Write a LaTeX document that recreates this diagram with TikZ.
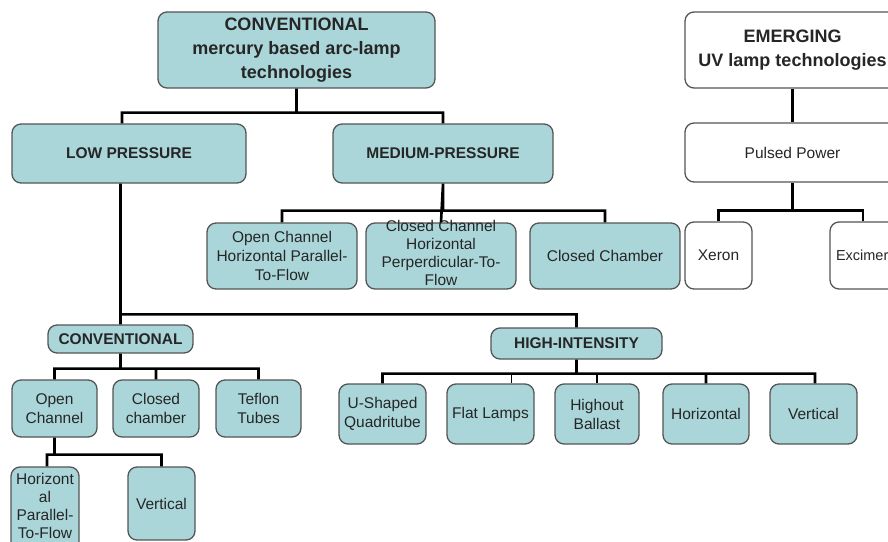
\documentclass[tikz,border=0pt]{standalone}
\usepackage{fontspec}
\setmainfont{Liberation Sans}
\usetikzlibrary{positioning}
\definecolor{lampfill}{RGB}{170,214,217}
\definecolor{lampline}{RGB}{85,85,85}
\newcommand{\tightstack}[1]{\smash{\begin{tabular}{@{}c@{}}#1\end{tabular}}}

\begin{document}
\begin{tikzpicture}[
    x=1pt, y=-1pt,
    font=\fontsize{15.5}{19}\selectfont,
    box/.style={draw=lampline, line width=1.3pt, rounded corners=9pt,
      fill=lampfill, align=center, inner sep=0pt, text=black!85},
    plain/.style={box, fill=white},
    head/.style={font=\fontsize{18}{24}\selectfont\bfseries},
    sub/.style={font=\fontsize{15.5}{19}\selectfont\bfseries},
    link/.style={line width=2.6pt},
    thinlink/.style={line width=1.3pt},
  ]
  \useasboundingbox (0,0) rectangle (888,541);
  \clip (0,0) rectangle (888,541);

  % conventional tree
  \node[box, head, minimum width=277pt, minimum height=76pt] (conv) at (296.5,50)
    {CONVENTIONAL\\mercury based arc-lamp\\technologies};
  \node[box, sub, minimum width=234pt, minimum height=59pt] (low) at (129,153.5) {LOW PRESSURE};
  \node[box, sub, minimum width=220pt, minimum height=59pt] (med) at (443,153.5) {MEDIUM-PRESSURE};

  \node[box, minimum width=150pt, minimum height=66pt] (openh) at (282,256)
    {Open Channel\\Horizontal Parallel-\\To-Flow};
  \node[box, minimum width=150pt, minimum height=66pt, font=\fontsize{15.5}{18}\selectfont] (closedh) at (441,256)
    {\raisebox{-5pt}{\tightstack{Closed Channel\\Horizontal\\Perperdicular-To-\\Flow}}};
  \node[box, minimum width=150pt, minimum height=66pt] (chamber) at (605,256) {Closed Chamber};

  \node[box, sub, minimum width=145pt, minimum height=28pt] (conv2) at (120.5,339) {CONVENTIONAL};
  \node[box, sub, minimum width=171pt, minimum height=31pt] (high) at (576.5,343.5) {HIGH-INTENSITY};

  \node[box, minimum width=85pt, minimum height=57pt] (open) at (54.5,408.5) {Open\\Channel};
  \node[box, minimum width=86pt, minimum height=57pt] (closed) at (156,408.5) {Closed\\chamber};
  \node[box, minimum width=85pt, minimum height=57pt] (teflon) at (258.5,408.5) {Teflon\\Tubes};

  \node[box, minimum width=68pt, minimum height=88pt, font=\fontsize{15.5}{18}\selectfont] (horiz) at (45,511)
    {\tightstack{Horizont\\al\\Parallel-\\To-Flow}};
  \node[box, minimum width=67pt, minimum height=73pt] (vert) at (161.5,503.5) {Vertical};

  \node[box, minimum width=87pt, minimum height=60pt] (ushaped) at (382.5,414) {U-Shaped\\Quadritube};
  \node[box, minimum width=87pt, minimum height=60pt] (flat) at (490.5,414) {Flat Lamps};
  \node[box, minimum width=84pt, minimum height=60pt] (highout) at (597,414) {Highout\\Ballast};
  \node[box, minimum width=86pt, minimum height=60pt] (horizontal) at (706,414) {Horizontal};
  \node[box, minimum width=87pt, minimum height=60pt] (vertical) at (813.5,414) {Vertical};

  % emerging tree
  \node[plain, head, minimum width=215pt, minimum height=76pt] (emerg) at (792.5,50)
    {EMERGING\\UV lamp technologies};
  \node[plain, minimum width=215pt, minimum height=59pt] (pulsed) at (792.5,152.5) {Pulsed Power};
  \node[plain, minimum width=67pt, minimum height=67pt] (xeron) at (718.5,255.5) {Xeron};
  \node[plain, minimum width=72pt, minimum height=67pt, text width=60pt, align=left,
    font=\fontsize{14.5}{18}\selectfont] (excimer) at (866,255.5) {Excimer};

  \draw[link]
    (conv.south) -- ++(0,24) -| ([xshift=-7pt]low.north)
    (conv.south) -- ++(0,24) -| (med.north)
    (med.south) -- ++(0,27) -| (openh.north)
    (med.south) -- (closedh.north)
    (med.south) -- ++(0,27) -| (chamber.north)
    (low.south -| conv2.north) -- (conv2.north)
    ([yshift=10pt]conv2.north) -| (high.north)
    (conv2.south) -- ++(0,15) -| (open.north)
    (conv2.south) -- ++(0,15) -| (closed.north)
    (conv2.south) -- ++(0,15) -| (teflon.north)
    (open.south) -- ++(0,17) -| ([xshift=2pt]horiz.north)
    (open.south) -- ++(0,17) -| (vert.north)
    (high.south) -- ++(0,14) -| (ushaped.north)
    (high.south) -- ++(0,14) -| (horizontal.north)
    (high.south) -- ++(0,14) -| ([xshift=1.5pt]vertical.north);
  \draw[thinlink]
    (high.south) -- ++(0,14) -| ([xshift=21pt]flat.north)
    (high.south) -- ++(0,14) -| (highout.north);
  \draw[link]
    (emerg) -- (pulsed)
    (pulsed.south) -- ++(0,28) -| (xeron.north)
    (pulsed.south) -- ++(0,28) -| ([xshift=-3pt]excimer.north);
\end{tikzpicture}
\end{document}
